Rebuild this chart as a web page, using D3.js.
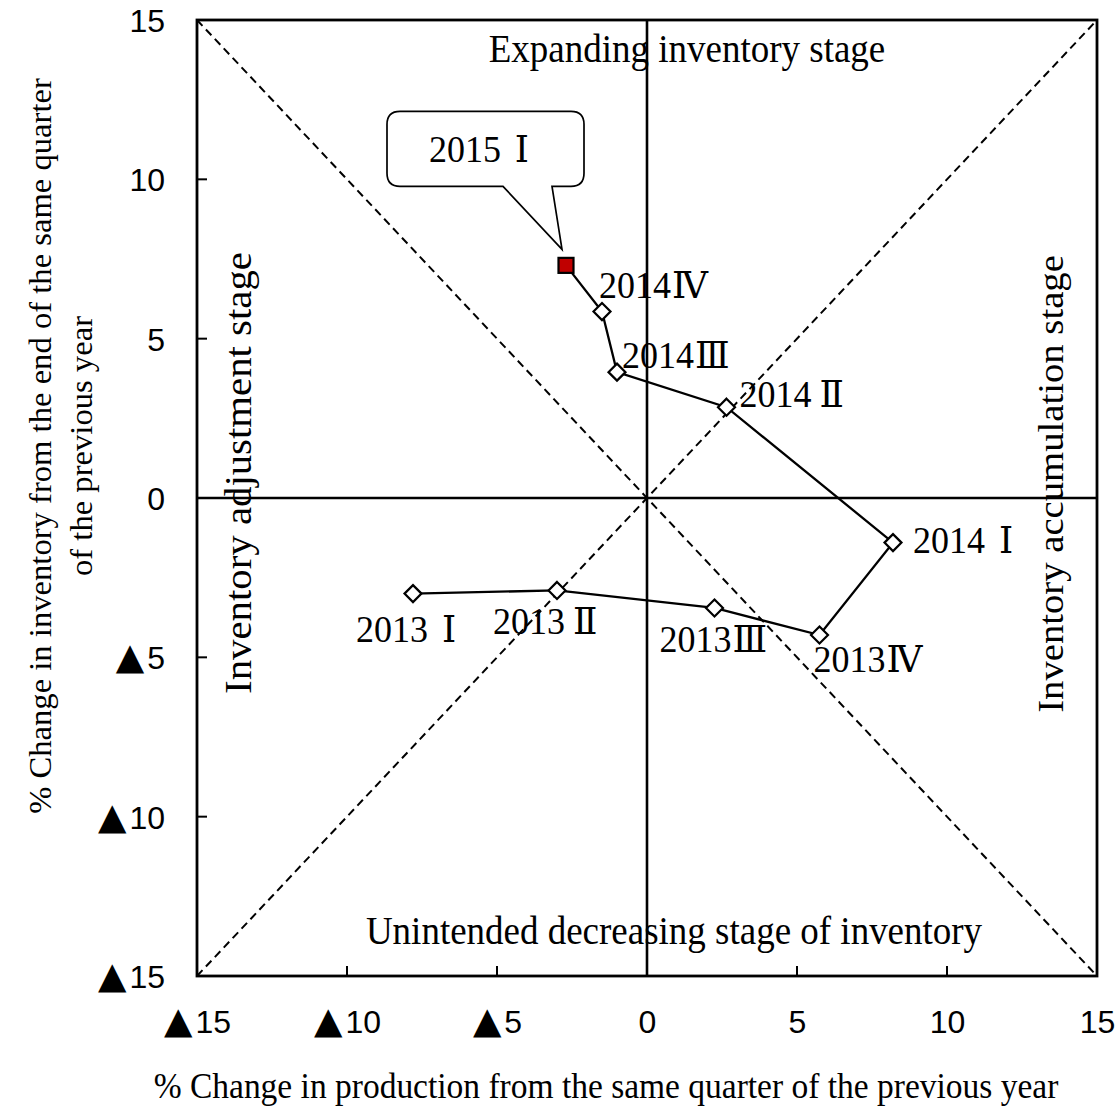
<!DOCTYPE html>
<html><head><meta charset="utf-8">
<script src="https://cdn.jsdelivr.net/npm/d3@7"></script>
<style>body{margin:0;background:#fff}</style>
</head><body><svg id="c" width="1116" height="1107"></svg>
<script>
// ---- data ----
const quarters   = ["2013Ⅰ","2013Ⅱ","2013Ⅲ","2013Ⅳ","2014Ⅰ","2014Ⅱ","2014Ⅲ","2014Ⅳ","2015Ⅰ"];
const production = [-7.8, -3.0, 2.25, 5.75, 8.2, 2.65, -1.0, -1.5, -2.7];
const inventory  = [-3.0, -2.9, -3.45, -4.3, -1.4, 2.85, 3.95, 5.85, 7.3];
const tickValues = [-15, -10, -5, 0, 5, 10, 15];
const tickLabels = ["▲15", "▲10", "▲5", "0", "5", "10", "15"];
const quadrantLabels = ["Expanding inventory stage", "Unintended decreasing stage of inventory",
                        "Inventory adjustment stage", "Inventory accumulation stage"];
const xTitle = "% Change in production from the same quarter of the previous year";
const yTitle = ["% Change in inventory from the end of the same quarter", "of the previous year"];

// ---- layout ----
const svg = d3.select("#c");
svg.append("rect").attr("width",1116).attr("height",1107).attr("fill","#fff");
const x = d3.scaleLinear().domain([-15,15]).range([197,1097]);
const y = d3.scaleLinear().domain([-15,15]).range([976,20]);
const serif = "'Liberation Serif','Times New Roman','DejaVu Serif',serif";
const sans = "'Liberation Sans',Arial,'DejaVu Sans',sans-serif";
const SY = 1.06; // vertical stretch of the original rendering
const pts = quarters.map((q,i)=>({q, x:production[i], y:inventory[i]}));

// diagonals
const g = svg.append("g");
[[[-15,15],[15,-15]],[[-15,-15],[15,15]]].forEach(d=>{
  g.append("line").attr("x1",x(d[0][0])).attr("y1",y(d[0][1])).attr("x2",x(d[1][0])).attr("y2",y(d[1][1]))
   .attr("stroke","#000").attr("stroke-width",2).attr("stroke-dasharray","8,5");
});
// center lines
g.append("line").attr("x1",x(0)).attr("x2",x(0)).attr("y1",y(15)).attr("y2",y(-15)).attr("stroke","#000").attr("stroke-width",2.6);
g.append("line").attr("x1",x(-15)).attr("x2",x(15)).attr("y1",y(0)).attr("y2",y(0)).attr("stroke","#000").attr("stroke-width",2.6);

// tick label helper: large ▲ glyph as the minus sign
function styleTick(sel){
  sel.each(function(){
    const t = d3.select(this), s = t.text();
    t.text(null).attr("font-family",sans).attr("font-size",32).attr("fill","#000");
    if (s.startsWith("▲")) {
      t.append("tspan").attr("font-size",37).attr("font-family","'DejaVu Sans',sans-serif").text("▲");
      t.append("tspan").attr("dx",3).text(s.slice(1));
    } else t.text(s);
  });
}
// axes
const xAxis = d3.axisBottom(x).tickValues(tickValues).tickSize(0).tickFormat((d,i)=>tickLabels[i]);
const yAxis = d3.axisLeft(y).tickValues(tickValues).tickSize(0).tickFormat((d,i)=>tickLabels[i]);
const gx = svg.append("g").attr("transform",`translate(0,${y(-15)})`).call(xAxis);
gx.select(".domain").remove();
gx.selectAll("text").attr("dy",null).attr("y",57).call(styleTick);
const gy = svg.append("g").attr("transform",`translate(${x(-15)},0)`).call(yAxis);
gy.select(".domain").remove();
gy.selectAll("text").attr("x",-32).attr("dy","0.36em").call(styleTick);
// inward ticks
tickValues.forEach(v=>{
  svg.append("line").attr("x1",x(v)).attr("x2",x(v)).attr("y1",y(-15)).attr("y2",y(-15)-10).attr("stroke","#000").attr("stroke-width",2);
  svg.append("line").attr("x1",x(-15)).attr("x2",x(-15)+10).attr("y1",y(v)).attr("y2",y(v)).attr("stroke","#000").attr("stroke-width",2);
});
// plot border
svg.append("rect").attr("x",x(-15)).attr("y",y(15)).attr("width",x(15)-x(-15)).attr("height",y(-15)-y(15))
  .attr("fill","none").attr("stroke","#000").attr("stroke-width",2.8);

function hText(tx,ty,str,size,anchor){
  return svg.append("text").attr("transform",`translate(${tx},${ty}) scale(1,${SY})`)
    .attr("text-anchor",anchor||"middle").attr("font-family",serif).attr("font-size",size).text(str);
}
function vText(tx,ty,str,size){
  return svg.append("text").attr("transform",`translate(${tx},${ty}) scale(1,${SY}) rotate(-90)`)
    .attr("text-anchor","middle").attr("font-family",serif).attr("font-size",size).text(str);
}
// quadrant labels
hText(687,62,quadrantLabels[0],37);
hText(674,944,quadrantLabels[1],37);
vText(251,473,quadrantLabels[2],38.5);
vText(1063,484,quadrantLabels[3],36.5);

// axis titles
hText(606,1098,xTitle,33.5);
vText(51,446,yTitle[0],30.8);
vText(92,446,yTitle[1],30.8);

// data line
svg.append("path").datum(pts).attr("fill","none").attr("stroke","#000").attr("stroke-width",2.3)
  .attr("d", d3.line().x(d=>x(d.x)).y(d=>y(d.y)));
// markers
const last = pts.length-1;
svg.selectAll("path.dia").data(pts.slice(0,last)).join("path").attr("class","dia")
  .attr("transform",d=>`translate(${x(d.x)},${y(d.y)})`)
  .attr("d","M0,-8.5L8.5,0L0,8.5L-8.5,0Z").attr("fill","#fff").attr("stroke","#000").attr("stroke-width",2.2);
const lp = pts[last];
svg.append("rect").attr("x",x(lp.x)-7.5).attr("y",y(lp.y)-7.5).attr("width",15).attr("height",15)
  .attr("fill","#c00000").attr("stroke","#000").attr("stroke-width",2.2);

// quarter label with full-width style spacing before the roman numeral
const numeralGap = {"Ⅰ":14, "Ⅱ":8, "Ⅲ":1, "Ⅳ":1};
function quarterLabel(t, q){
  const yr = q.slice(0,4), nm = q.slice(4);
  t.append("tspan").text(yr);
  t.append("tspan").attr("dx", numeralGap[nm]||0).text(nm);
}
// point labels (offsets from marker, text start / baseline)
const offs = [[-57,48],[-64,44],[-55,44],[-6,37],[20,10],[13,0],[5,-4],[-3,-14]];
pts.slice(0,last).forEach((d,i)=>{
  const t = hText(x(d.x)+offs[i][0], y(d.y)+offs[i][1], null, 36, "start");
  quarterLabel(t, d.q);
});

// callout for last point
const px = x(lp.x), py = y(lp.y);
const L=px-179, R=px+18, T=py-154, B=py-79, r=13;
const cp = `M${L+r},${T}H${R-r}Q${R},${T} ${R},${T+r}V${B-r}Q${R},${B} ${R-r},${B}H${px-14}L${px-4},${py-16}L${px-63},${B}H${L+r}Q${L},${B} ${L},${B-r}V${T+r}Q${L},${T} ${L+r},${T}Z`;
svg.append("path").attr("d",cp).attr("fill","#fff").attr("stroke","#000").attr("stroke-width",1.7);
const ct = hText(px-87, py-103, null, 36, "middle");
quarterLabel(ct, lp.q);
</script></body></html>
